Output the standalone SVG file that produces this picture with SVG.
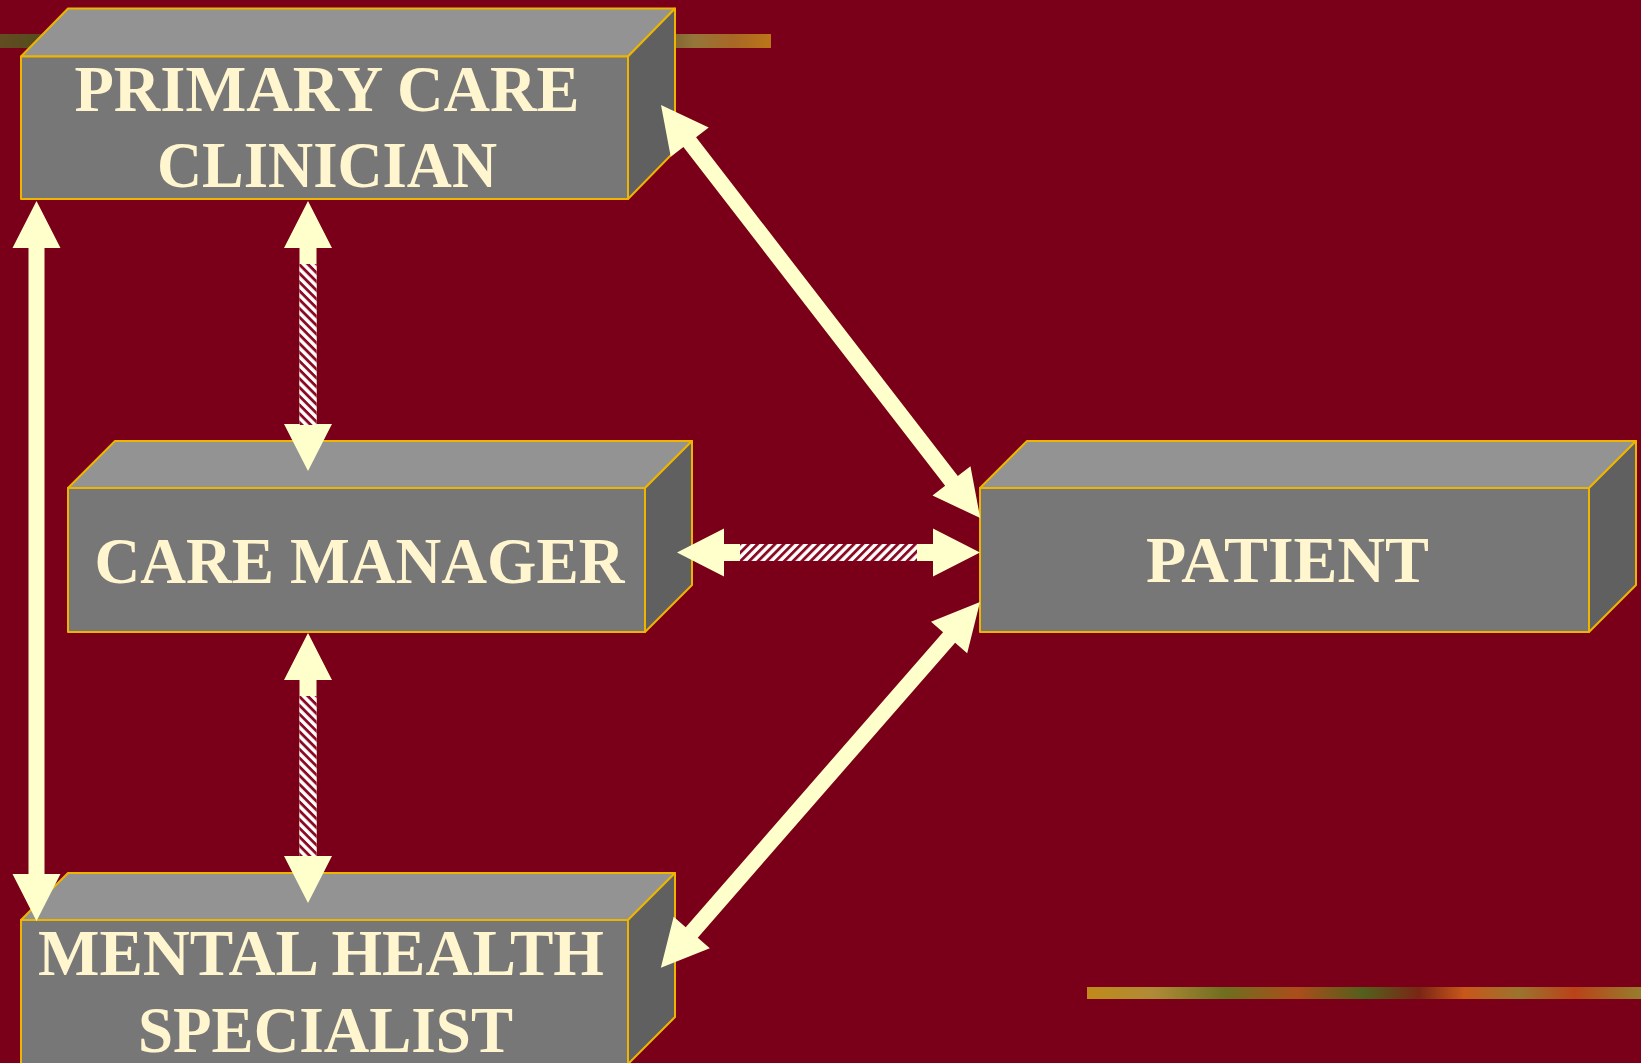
<svg xmlns="http://www.w3.org/2000/svg" width="1641" height="1063" viewBox="0 0 1641 1063">
<style>
.front{fill:#777777;stroke:#EDB500;stroke-width:2;stroke-linejoin:round}
.top{fill:#939393;stroke:#EDB500;stroke-width:2;stroke-linejoin:round}
.side{fill:#606060;stroke:#EDB500;stroke-width:2;stroke-linejoin:round}
.lbl{font-family:"Liberation Serif","Times New Roman",serif;font-weight:bold;font-size:66px;fill:#FFF6CF;text-anchor:middle}
.arr{fill:#FFFFCC}
</style>
<defs>
<pattern id="hatch" width="6.2" height="6.2" patternUnits="userSpaceOnUse" patternTransform="rotate(45)">
<rect width="6.2" height="6.2" fill="#FFFFFF"/>
<rect width="2.8" height="6.2" fill="#8A0A22"/>
</pattern>
<linearGradient id="deco" x1="0" y1="0" x2="1" y2="0">
<stop offset="0" stop-color="#C89A1A"/>
<stop offset="0.12" stop-color="#B59A3A"/>
<stop offset="0.25" stop-color="#6E7A20"/>
<stop offset="0.38" stop-color="#B0561A"/>
<stop offset="0.5" stop-color="#4E6A1C"/>
<stop offset="0.6" stop-color="#7A2A14"/>
<stop offset="0.68" stop-color="#D0601A"/>
<stop offset="0.78" stop-color="#A08030"/>
<stop offset="0.88" stop-color="#C04A18"/>
<stop offset="1" stop-color="#9A8A30"/>
</linearGradient>
<linearGradient id="deco2" x1="0" y1="0" x2="771" y2="0" gradientUnits="userSpaceOnUse">
<stop offset="0" stop-color="#5E5A22"/>
<stop offset="0.05" stop-color="#4E5A20"/>
<stop offset="0.85" stop-color="#6E6A2A"/>
<stop offset="0.9" stop-color="#9A8A40"/>
<stop offset="0.95" stop-color="#B07A28"/>
<stop offset="1" stop-color="#C88A18"/>
</linearGradient>
</defs>
<rect width="1641" height="1063" fill="#7A0019"/>
<g id="decor">
<rect x="0" y="34" width="771" height="14" fill="url(#deco2)" opacity="0.85"/>
<rect x="1087" y="987" width="554" height="12" fill="url(#deco)" opacity="0.9"/>
</g>
<g id="node-pcc">
<polygon class="top" points="21,56.5 68,8.5 675,8.5 628,56.5"/>
<polygon class="side" points="628,56.5 675,8.5 675,151 628,199"/>
<rect class="front" x="21" y="56.5" width="607" height="142.5"/>
<text class="lbl" x="327" y="111" textLength="505" lengthAdjust="spacingAndGlyphs">PRIMARY CARE</text>
<text class="lbl" x="327" y="187" textLength="340" lengthAdjust="spacingAndGlyphs">CLINICIAN</text>
</g>
<g id="node-cm">
<polygon class="top" points="68,488 115,441 692,441 645,488"/>
<polygon class="side" points="645,488 692,441 692,585 645,632"/>
<rect class="front" x="68" y="488" width="577" height="144"/>
<text class="lbl" x="359.5" y="583" textLength="530" lengthAdjust="spacingAndGlyphs">CARE MANAGER</text>
</g>
<g id="node-patient">
<polygon class="top" points="980,488 1027,441 1636,441 1589,488"/>
<polygon class="side" points="1589,488 1636,441 1636,585 1589,632"/>
<rect class="front" x="980" y="488" width="609" height="144"/>
<text class="lbl" x="1287.5" y="582" textLength="283" lengthAdjust="spacingAndGlyphs">PATIENT</text>
</g>
<g id="node-mhs">
<polygon class="top" points="21,920 68,873 675,873 628,920"/>
<polygon class="side" points="628,920 675,873 675,1017 628,1064"/>
<rect class="front" x="21" y="920" width="607" height="144"/>
<text class="lbl" x="321" y="975" textLength="566" lengthAdjust="spacingAndGlyphs">MENTAL HEALTH</text>
<text class="lbl" x="325.5" y="1052" textLength="375" lengthAdjust="spacingAndGlyphs">SPECIALIST</text>
</g>
<g id="connectors">
<g transform="translate(36.5,201) rotate(90)">
<polygon class="arr" points="0,0 47,-24 47,-8 673,-8 673,-24 720,0 673,24 673,8 47,8 47,24"/>
</g>
<g transform="translate(308,201) rotate(90)">
<polygon class="arr" points="0,0 47,-24 47,-8.5 223,-8.5 223,-24 270,0 223,24 223,8.5 47,8.5 47,24"/>
<rect x="63" y="-8.5" width="161" height="17" fill="url(#hatch)"/>
</g>
<g transform="translate(308,633) rotate(90)">
<polygon class="arr" points="0,0 47,-24 47,-8.5 223,-8.5 223,-24 270,0 223,24 223,8.5 47,8.5 47,24"/>
<rect x="63" y="-8.5" width="160" height="17" fill="url(#hatch)"/>
</g>
<g transform="translate(677,552.5)">
<polygon class="arr" points="0,0 47,-24 47,-8.5 256,-8.5 256,-24 303,0 256,24 256,8.5 47,8.5 47,24"/>
<rect x="63" y="-8.5" width="177" height="17" fill="url(#hatch)"/>
</g>
<g transform="translate(661,105) rotate(52.3)">
<polygon class="arr" points="0,0 47,-24 47,-8 475,-8 475,-24 522,0 475,24 475,8 47,8 47,24"/>
</g>
<g transform="translate(980,602) rotate(131.1)">
<polygon class="arr" points="0,0 47,-24 47,-8 438.5,-8 438.5,-24 485.5,0 438.5,24 438.5,8 47,8 47,24"/>
</g>
</g>
</svg>
